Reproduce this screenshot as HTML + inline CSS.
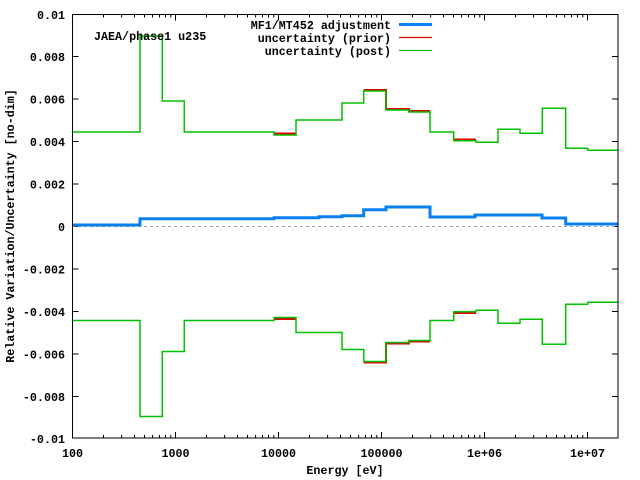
<!DOCTYPE html>
<html><head><style>body{margin:0;background:#fff}svg{display:block}text{font-family:"Liberation Mono",monospace;font-weight:bold;font-size:11.7px;fill:#000}</style></head><body>
<svg width="640" height="480" xmlns="http://www.w3.org/2000/svg">
<g id="ticks" stroke="#000" stroke-width="1">
<path d="M72.5,56.5h6M72.5,99h6M72.5,141.5h6M72.5,184h6M72.5,226.5h6M72.5,269h6M72.5,311.5h6M72.5,354h6M72.5,396.5h6M618,56.5h-6M618,99h-6M618,141.5h-6M618,184h-6M618,226.5h-6M618,269h-6M618,311.5h-6M618,354h-6M618,396.5h-6"/>
<path id="xt" d=""/>
</g>
<line x1="72" y1="226.5" x2="618" y2="226.5" stroke="#a0a0a0" stroke-dasharray="3,3"/>
<g fill="none" stroke-width="2">
<path stroke="#e00000" d="M274,133.5H296M363.7,90H386V109H409V111H430M453.7,139.5H476"/>
<path stroke="#e00000" d="M274,319H296M363.7,362.5H386V343.5H409V341.5H430M453.7,313H476"/>
</g>
<g fill="none" stroke="#00c000" stroke-width="1.5">
<path d="M72,132H140V36H162.3V101H184.3V132H274V135H296V120H342V103H363.7V91H386V110H409V112H430V132H453.7V140.7H476V142.3H498V129.3H520V133.3H542.3V108.3H565.7V148.3H587.7V150.3H618"/>
<path d="M72,320.5H140V416.5H162.3V351.5H184.3V320.5H274V317.5H296V332.5H342V349.5H363.7V361.5H386V342.5H409V340.5H430V320.5H453.7V311.8H476V310.2H498V323.2H520V319.2H542.3V344.2H565.7V304.2H587.7V302.2H618"/>
</g>
<path fill="none" stroke="#0a80f0" stroke-width="3" d="M72,225H140V218.7H274V217.7H319V216.7H342V215.7H363.7V209.7H386V207H430V217H475V215H542V218H565.7V224H618"/>
<rect x="72.5" y="14.5" width="545.5" height="423.5" fill="none" stroke="#000"/>
<text x="65" y="19" text-anchor="end">0.01</text>
<text x="65" y="61" text-anchor="end">0.008</text>
<text x="65" y="103.5" text-anchor="end">0.006</text>
<text x="65" y="146" text-anchor="end">0.004</text>
<text x="65" y="188.5" text-anchor="end">0.002</text>
<text x="65" y="231" text-anchor="end">0</text>
<text x="65" y="273.5" text-anchor="end">-0.002</text>
<text x="65" y="316" text-anchor="end">-0.004</text>
<text x="65" y="358.5" text-anchor="end">-0.006</text>
<text x="65" y="401" text-anchor="end">-0.008</text>
<text x="65" y="443" text-anchor="end">-0.01</text>
<g text-anchor="middle">
<text x="72.5" y="457">100</text><text x="175.5" y="457">1000</text><text x="278.5" y="457">10000</text><text x="381.5" y="457">100000</text><text x="484.5" y="457">1e+06</text><text x="587.5" y="457">1e+07</text>
<text x="345" y="474">Energy [eV]</text>
<text transform="translate(14,226) rotate(-90)">Relative Variation/Uncertainty [no-dim]</text>
</g>
<text x="94" y="40">JAEA/phase1 u235</text>
<g text-anchor="end"><text x="391" y="29">MF1/MT452 adjustment</text><text x="391" y="42">uncertainty (prior)</text><text x="391" y="55">uncertainty (post)</text></g>
<path d="M399,24.5h33" stroke="#0a80f0" stroke-width="3"/>
<path d="M399,37.5h33" stroke="#e00000" stroke-width="1.2"/>
<path d="M399,50.5h33" stroke="#00c000" stroke-width="1.2"/>
</svg>
<script>
var d="";var dec=103;
for(var k=0;k<6;k++){for(var m=1;m<=9;m++){var x=72.5+dec*(k+Math.log10(m));if(x>618)break;var L=m==1?6:3;d+="M"+x.toFixed(1)+",438v-"+L+"M"+x.toFixed(1)+",14.5v"+L;}}
document.getElementById("xt").setAttribute("d",d);
</script>
</body></html>
